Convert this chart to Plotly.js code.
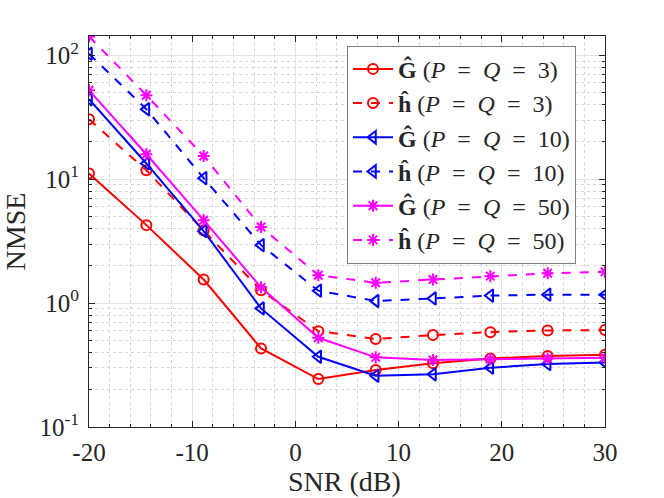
<!DOCTYPE html>
<html>
<head>
<meta charset="utf-8">
<script src="https://cdn.plot.ly/plotly-3.0.1.min.js"></script>
<style>html,body{margin:0;padding:0;background:#fff;}#chart{width:664px;height:498px;}</style>
</head>
<body>
<div id="chart"></div>
<script>
const snr = [-20, -14.44, -8.89, -3.33, 2.22, 7.78, 13.33, 18.89, 24.44, 30];
const G3  = [11.1, 4.26, 1.55, 0.431, 0.244, 0.288, 0.327, 0.358, 0.374, 0.383];
const h3  = [30.5, 11.8, 3.85, 1.27, 0.594, 0.513, 0.552, 0.583, 0.602, 0.606];
const G10 = [44.2, 13.4, 3.81, 0.906, 0.369, 0.259, 0.266, 0.301, 0.322, 0.332];
const h10 = [103, 36.7, 10.2, 2.94, 1.26, 1.04, 1.09, 1.15, 1.17, 1.17];
const G50 = [52.2, 15.9, 4.67, 1.34, 0.525, 0.365, 0.347, 0.353, 0.358, 0.362];
const h50 = [142, 47.6, 15.4, 4.12, 1.68, 1.46, 1.55, 1.65, 1.74, 1.79];
const xTicks = [-20, -10, 0, 10, 20, 30];
const xTickText = ['-20', '-10', '0', '10', '20', '30'];
const yTicks = [0.1, 1, 10, 100];
const yTickText = ['10<sup>-1</sup>', '10<sup>0</sup>', '10<sup>1</sup>', '10<sup>2</sup>'];
const xTitle = 'SNR (dB)';
const yTitle = 'NMSE';
const sp = '\u2002';
const names = [
  '<b>Ĝ</b> (<i>P</i>' + sp + '=' + sp + '<i>Q</i>' + sp + '=' + sp + '3)',
  '<b>ĥ</b> (<i>P</i>' + sp + '=' + sp + '<i>Q</i>' + sp + '=' + sp + '3)',
  '<b>Ĝ</b> (<i>P</i>' + sp + '=' + sp + '<i>Q</i>' + sp + '=' + sp + '10)',
  '<b>ĥ</b> (<i>P</i>' + sp + '=' + sp + '<i>Q</i>' + sp + '=' + sp + '10)',
  '<b>Ĝ</b> (<i>P</i>' + sp + '=' + sp + '<i>Q</i>' + sp + '=' + sp + '50)',
  '<b>ĥ</b> (<i>P</i>' + sp + '=' + sp + '<i>Q</i>' + sp + '=' + sp + '50)'
];
const series = [G3, h3, G10, h10, G50, h50];
const colors = ['#ff0000', '#ff0000', '#0000ff', '#0000ff', '#ff00ff', '#ff00ff'];
const dashes = ['solid', 'dash', 'solid', 'dash', 'solid', 'dash'];
const symbols = ['circle-open', 'circle-open', 'triangle-left-open', 'triangle-left-open', 'asterisk-open', 'asterisk-open'];
const sizes = [10, 10, 11, 11, 10, 10];

const traces = series.map((s, i) => ({
  x: snr, y: s, name: names[i], type: 'scatter', mode: 'lines+markers',
  line: {color: colors[i], width: 2, dash: dashes[i]},
  marker: {symbol: symbols[i], size: sizes[i], color: colors[i], line: {color: colors[i], width: 2}}
}));

const fam = "'Liberation Serif', 'Times New Roman', serif";
const layout = {
  width: 664, height: 498,
  margin: {l: 89, r: 59, t: 36, b: 71},
  paper_bgcolor: '#fff', plot_bgcolor: '#fff',
  font: {family: fam, size: 24, color: '#262626'},
  showlegend: true,
  legend: {
    x: 0.5, y: 0.975, xanchor: 'left', yanchor: 'top',
    bgcolor: '#fff', bordercolor: '#808080', borderwidth: 1,
    font: {family: fam, size: 24, color: '#262626'},
    itemwidth: 40, tracegroupgap: 0
  },
  xaxis: {
    range: [-20, 30], tickvals: xTicks, ticktext: xTickText,
    ticks: 'inside', ticklen: 6, tickcolor: '#262626', mirror: 'ticks',
    showline: true, linecolor: '#262626', linewidth: 1,
    showgrid: true, gridcolor: '#e3e3e3', gridwidth: 1, zeroline: false,
    minor: {dtick: 2, tick0: 0, showgrid: true, gridcolor: '#d6d6d6', griddash: 'dot', ticks: 'inside', ticklen: 3, tickcolor: '#262626'},
    ticklabelstandoff: 3,
    tickfont: {family: fam, size: 25, color: '#262626'}
  },
  yaxis: {
    type: 'log', range: [-1, 2.156], tickvals: yTicks, ticktext: yTickText,
    ticks: 'inside', ticklen: 6, tickcolor: '#262626', mirror: 'ticks',
    showline: true, linecolor: '#262626', linewidth: 1,
    showgrid: true, gridcolor: '#e3e3e3', gridwidth: 1, zeroline: false,
    minor: {dtick: 'D1', showgrid: true, gridcolor: '#d6d6d6', griddash: 'dot', ticks: 'inside', ticklen: 3, tickcolor: '#262626'},
    ticklabelstandoff: 4,
    title: {text: yTitle, font: {family: fam, size: 28, color: '#262626'}, standoff: 10},
    tickfont: {family: fam, size: 25, color: '#262626'}
  },
  annotations: [{
    text: xTitle, xref: 'paper', yref: 'paper', x: 0.495, y: 0,
    xanchor: 'center', yanchor: 'middle', yshift: -54, showarrow: false,
    font: {family: fam, size: 28, color: '#262626'}
  }]
};
Plotly.newPlot('chart', traces, layout, {displayModeBar: false, staticPlot: true});
</script>
</body>
</html>
